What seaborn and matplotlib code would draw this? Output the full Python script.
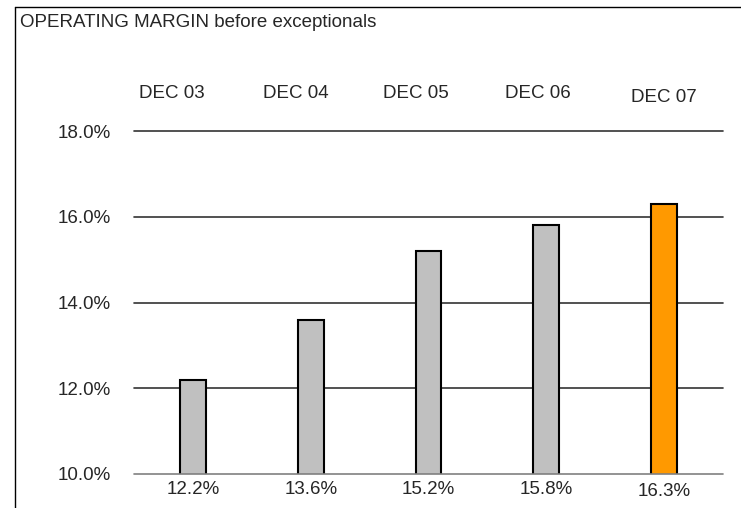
import matplotlib
matplotlib.use("Agg")
import matplotlib.pyplot as plt
import matplotlib.transforms as mtransforms
from matplotlib.lines import Line2D
import seaborn as sns
import pandas as pd

categories = ["DEC 03", "DEC 04", "DEC 05", "DEC 06", "DEC 07"]
values = [12.2, 13.6, 15.2, 15.8, 16.3]
value_labels = ["12.2%", "13.6%", "15.2%", "15.8%", "16.3%"]
highlight = ["base", "base", "base", "base", "latest"]
yticks = [10, 12, 14, 16, 18]
ytick_labels = ["10.0%", "12.0%", "14.0%", "16.0%", "18.0%"]
title = "OPERATING MARGIN before exceptionals"

sns.set_style("white")
plt.rcParams['font.family'] = ['Liberation Sans', 'DejaVu Sans']

df = pd.DataFrame({"cat": categories, "val": values, "grp": highlight})

W, H = 741, 508
fig = plt.figure(figsize=(W/100, H/100), dpi=100)
ax = fig.add_axes([134/W, 1-474/H, (723-134)/W, (474-131)/H])

sns.barplot(data=df, x="cat", y="val", hue="grp",
            palette={"base": "#C0C0C0", "latest": "#FF9900"},
            saturation=1, dodge=False, width=0.22, edgecolor="black",
            linewidth=1.5, legend=False, ax=ax, zorder=3)

ax.set_ylim(10, 18)
ax.set_xlim(-0.5, 4.5)
ax.set_yticks(yticks)
ax.set_yticklabels(ytick_labels, fontsize=13.5)
ax.tick_params(axis="y", length=0, pad=17)
ax.set_xticks([])
ax.set_xlabel("")
ax.set_ylabel("")
for s in ax.spines.values():
    s.set_visible(False)
ax.grid(False)
for t in yticks:
    ax.axhline(t, color="#333333" if t != 10 else "#808080", lw=1.2,
               zorder=1 if t != 10 else 4, clip_on=False)

fs = 13.5
trans = mtransforms.blended_transform_factory(ax.transData, ax.transAxes)
label_shift = [-0.18, -0.13, -0.11, -0.07, 0.0]
for i, (c, lab) in enumerate(zip(categories, value_labels)):
    ytop = 94 if i < 4 else 97
    ybot = 490 if i < 4 else 492
    ax.text(i + label_shift[i], (474 - ytop) / 343, c, transform=trans,
            ha="center", va="center", fontsize=fs)
    ax.text(i, -(ybot - 474) / 343, lab, transform=trans,
            ha="center", va="center", fontsize=fs)

fig.text(20/W, 1-22.5/H, title, ha="left", va="center", fontsize=fs)

fig.add_artist(Line2D([15/W, 15/W], [0, 1-7/H], color="black", lw=1, transform=fig.transFigure))
fig.add_artist(Line2D([15/W, 1], [1-7/H, 1-7/H], color="black", lw=1, transform=fig.transFigure))

fig.savefig("out.png", dpi=100)
